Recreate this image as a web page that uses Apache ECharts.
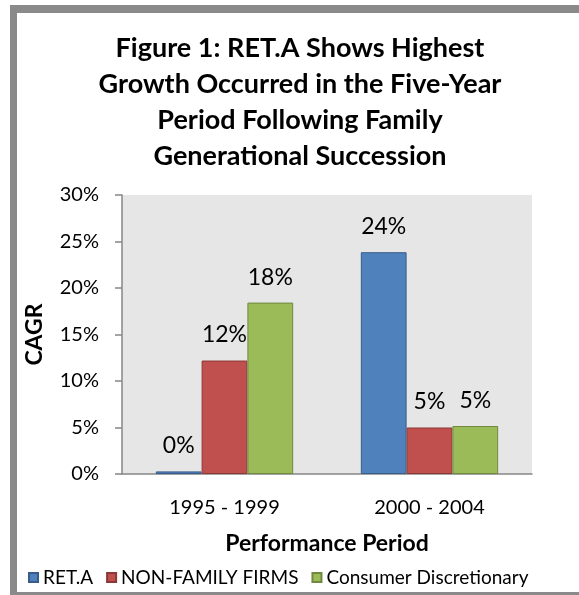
<!DOCTYPE html>
<html>
<head>
<meta charset="utf-8">
<script src="https://cdn.jsdelivr.net/npm/echarts@6/dist/echarts.min.js"></script>
<style>
  html, body { margin: 0; padding: 0; background: #fff; }
  #main { width: 579px; height: 595px; }
</style>
</head>
<body>
<div id="main"></div>
<script>
// periods on the x axis
var periods = ['1995 - 1999', '2000 - 2004'];
// CAGR in percent
var retA = [0.28, 23.85];
var nonFamily = [12.2, 5.0];
var consumerDisc = [18.43, 5.16];
var yTicks = [0, 5, 10, 15, 20, 25, 30];

var FONT = 'Lato';

var myChart = echarts.init(document.getElementById('main'));

function barSeries(name, data, color, edge) {
	return {
		name: name,
		type: 'bar',
		data: data,
		barGap: '0%',
		barCategoryGap: '33%',
		itemStyle: { color: color, borderColor: edge, borderWidth: 1 },
		label: {
			show: true,
			position: 'top',
			distance: 14,
			color: '#000',
			fontFamily: FONT,
			fontSize: 23,
			formatter: function (p) { return Math.round(p.value) + '%'; }
		}
	};
}

var option = {
	backgroundColor: '#fff',
	animation: false,
	title: {
		text: 'Figure 1: RET.A Shows Highest\nGrowth Occurred in the Five-Year\nPeriod Following Family\nGenerational Succession',
		left: 300,
		top: 30,
		padding: 0,
		textAlign: 'center',
		textStyle: {
			fontFamily: FONT,
			fontWeight: 'bold',
			fontSize: 27,
			lineHeight: 36,
			color: '#000'
		}
	},
	legend: {
		left: 23,
		top: 563,
		itemWidth: 9,
		itemHeight: 9,
		itemGap: 13,
		icon: 'rect',
		textStyle: { fontFamily: FONT, fontSize: 19, color: '#000' },
		data: ['RET.A', 'NON-FAMILY FIRMS', 'Consumer Discretionary']
	},
	grid: {
		left: 122,
		right: 47,
		top: 195,
		bottom: 121,
		show: true,
		backgroundColor: '#e6e6e6',
		borderWidth: 0,
		outerBoundsMode: 'none'
	},
	xAxis: {
		type: 'category',
		data: periods,
		name: 'Performance Period',
		nameLocation: 'middle',
		nameGap: 58,
		nameTextStyle: { fontFamily: FONT, fontWeight: 'bold', fontSize: 23, color: '#000' },
		axisLine: { lineStyle: { color: '#868686', width: 1.5 } },
		axisTick: { length: 7, lineStyle: { color: '#868686', width: 1.5 } },
		axisLabel: { fontFamily: FONT, fontSize: 20, color: '#000', margin: 24 }
	},
	yAxis: {
		type: 'value',
		min: yTicks[0],
		max: yTicks[yTicks.length - 1],
		interval: yTicks[1] - yTicks[0],
		name: 'CAGR',
		nameLocation: 'middle',
		nameGap: 76,
		nameRotate: 90,
		nameTextStyle: { fontFamily: FONT, fontWeight: 'bold', fontSize: 23, color: '#000' },
		axisLine: { show: true, lineStyle: { color: '#868686', width: 1.5 } },
		axisTick: { show: true, length: 7, lineStyle: { color: '#868686', width: 1.5 } },
		axisLabel: { fontFamily: FONT, fontSize: 20, color: '#000', margin: 23, formatter: '{value}%' },
		splitLine: { show: false }
	},
	graphic: [
		{ type: 'rect', shape: { x: 10, y: 5, width: 569, height: 8 }, style: { fill: '#8a8a8a' }, silent: true },
		{ type: 'rect', shape: { x: 10, y: 5, width: 7, height: 590 }, style: { fill: '#8a8a8a' }, silent: true },
		{ type: 'rect', shape: { x: 10, y: 592, width: 569, height: 3 }, style: { fill: '#8a8a8a' }, silent: true }
	],
	series: [
		barSeries('RET.A', retA, '#4f81bd', '#385d8a'),
		barSeries('NON-FAMILY FIRMS', nonFamily, '#c0504d', '#8c3836'),
		barSeries('Consumer Discretionary', consumerDisc, '#9bbb59', '#71893f')
	]
};

myChart.setOption(option);
</script>
</body>
</html>
